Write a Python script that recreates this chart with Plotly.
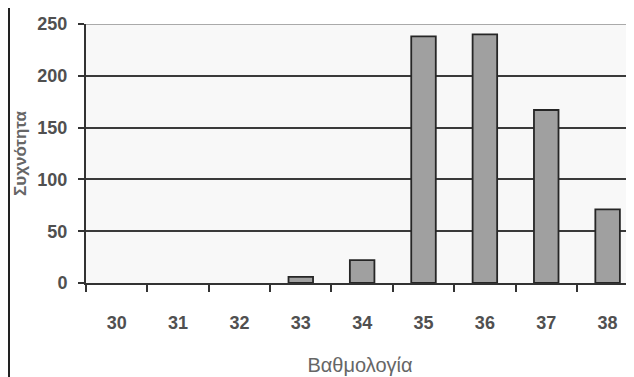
import plotly.graph_objects as go

categories = ["30", "31", "32", "33", "34", "35", "36", "37", "38"]
frequencies = [0, 0, 0, 6, 22, 238, 240, 167, 71]
y_ticks = [0, 50, 100, 150, 200, 250]

# page body has an 8px default margin, so the figure is sized to fit the window
W, H = 626, 369
ML, MR, MT, MB = 78, 0, 16, 94

fig = go.Figure()
fig.add_trace(go.Bar(
    x=categories, y=frequencies,
    marker=dict(color="#a0a0a0",
                line=dict(color="#262626", width=[1.8 if v > 0 else 0 for v in frequencies])),
    width=0.4,
))

font_main = "Liberation Sans, Arial, sans-serif"
fig.update_layout(
    width=W, height=H,
    margin=dict(l=ML, r=MR, t=MT, b=MB, pad=0, autoexpand=False),
    paper_bgcolor="white",
    plot_bgcolor="#f8f8f8",
    showlegend=False,
    font=dict(family=font_main, color="#555555"),
    xaxis=dict(
        type="category",
        range=[-0.5, 8.43],
        automargin=False,
        tickson="boundaries",
        ticks="outside", ticklen=7, tickwidth=2, tickcolor="#333333",
        showline=True, linecolor="#333333", linewidth=2,
        showgrid=False,
        tickfont=dict(size=18, color="#505050", family=font_main, weight="bold"),
        ticklabelstandoff=22,
        title=dict(text="Βαθμολογία", font=dict(size=20, color="#666666"), standoff=26),
    ),
    yaxis=dict(
        range=[0, 250],
        automargin=False,
        tickvals=y_ticks,
        ticks="outside", ticklen=6, tickwidth=2, tickcolor="#333333",
        showline=True, linecolor="#333333", linewidth=2,
        showgrid=True, gridcolor="#3a3a3a", gridwidth=1.5,
        zeroline=False,
        tickfont=dict(size=18, color="#505050", family=font_main, weight="bold"),
        ticklabelstandoff=7,
        title=dict(text="Συχνότητα", font=dict(size=17, color="#666666", weight="bold"), standoff=6),
    ),
)

# lighter top gridline at 250
fig.add_shape(type="line", xref="paper", yref="y", x0=0, x1=1, y0=250, y1=250,
              line=dict(color="#aaaaaa", width=2), layer="above")
# left frame line of the original chart area
xp = (1 - ML) / (W - ML - MR)
fig.add_shape(type="line", xref="paper", yref="paper", x0=xp, x1=xp,
              y0=-MB / (H - MT - MB), y1=1 + MT / (H - MT - MB),
              line=dict(color="#222222", width=2), layer="above")

fig.write_html("out.html")
